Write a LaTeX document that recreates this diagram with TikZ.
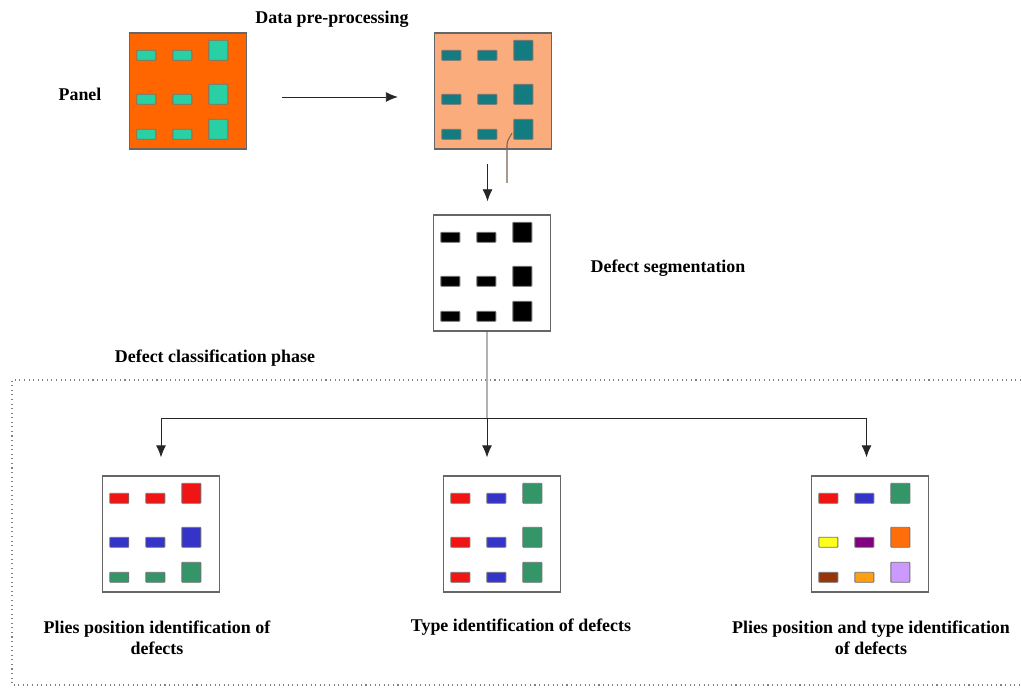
\documentclass[tikz,border=0pt]{standalone}
\usepackage{fontspec}
\setmainfont{Liberation Serif}
\usepackage{xcolor}
\usepackage{tikz}
\usetikzlibrary{arrows.meta, positioning}
\definecolor{panelorange}{RGB}{255, 102, 0}
\definecolor{prepsalmon}{RGB}{250, 172, 124}
\definecolor{aquagreen}{RGB}{40, 208, 164}
\definecolor{darkteal}{RGB}{18, 124, 128}
\definecolor{flawred}{RGB}{240, 20, 20}
\definecolor{flawblue}{RGB}{52, 52, 200}
\definecolor{flawgreen}{RGB}{52, 150, 104}
\definecolor{flawyellow}{RGB}{255, 255, 30}
\definecolor{flawpurple}{RGB}{128, 0, 128}
\definecolor{flaworange}{RGB}{255, 110, 10}
\definecolor{flawbrown}{RGB}{150, 52, 10}
\definecolor{flawamber}{RGB}{255, 160, 20}
\definecolor{flawlilac}{RGB}{204, 153, 255}
\definecolor{strayline}{RGB}{120, 100, 80}

% nine defects inside a panel, row by row
\newcommand{\defects}[2]{%
  \begin{scope}[shift={(#1.north west)}]
    \foreach \clr [count=\i from 0] in {#2} {
      \pgfmathtruncatemacro{\col}{mod(\i,3)}
      \pgfmathtruncatemacro{\row}{div(\i,3)}
      \pgfmathsetmacro{\xl}{8+36*\col}
      \pgfmathsetmacro{\yb}{{28,72,107}[\row]}
      \pgfmathsetmacro{\h}{\col==2 ? 20 : 10}
      \draw[flaw, fill=\clr] (\xl,\yb) rectangle ++(19,-\h);
    }
  \end{scope}}

\begin{document}
\begin{tikzpicture}[
    x=0.02cm, y=-0.02cm,
    box/.style={rectangle, draw=black!60, line width=0.8pt, minimum width=2.34cm, minimum height=2.32cm, inner sep=0pt},
    flaw/.style={draw=black!55, line width=0.5pt, rounded corners=0.4pt},
    label/.style={font=\bfseries\fontsize{10.2}{12}\selectfont, align=center},
    arrow/.style={-{Latex[length=2.4mm, width=2mm]}, line width=0.5pt, black!85},
    wire/.style={line width=0.5pt, black!85}
]
    \useasboundingbox (0,0) rectangle (1021,688);

    % Panel and data pre-processing
    \node[box, fill=panelorange] (panel) at (188,91) {};
    \node[box, fill=prepsalmon] (prep) at (493,91) {};
    \defects{panel}{aquagreen,aquagreen,aquagreen,aquagreen,aquagreen,aquagreen,aquagreen,aquagreen,aquagreen}
    \defects{prep}{darkteal,darkteal,darkteal,darkteal,darkteal,darkteal,darkteal,darkteal,darkteal}
    \node[label] (panellbl) at (80,94) {Panel};
    \node[label] (preplbl) at (332,19) {Data pre-processing};

    % Defect segmentation
    \node[box, fill=white] (seg) at (492,273) {};
    \defects{seg}{black,black,black,black,black,black,black,black,black}
    \node[label] (seglbl) at (668,268) {Defect segmentation};

    % Defect classification phase
    \draw[dotted, black!50, line width=0.6pt] (1030,380) -- (12,380) -- (12,685) -- (1030,685);
    \node[label] (phaselbl) at (215,358) {Defect classification phase};
    \node[box, fill=white] (plies) at (161,534) {};
    \node[box, fill=white] (type) at (502,534) {};
    \node[box, fill=white] (both) at (870,534) {};
    \defects{plies}{flawred,flawred,flawred,flawblue,flawblue,flawblue,flawgreen,flawgreen,flawgreen}
    \defects{type}{flawred,flawblue,flawgreen,flawred,flawblue,flawgreen,flawred,flawblue,flawgreen}
    \defects{both}{flawred,flawblue,flawgreen,flawyellow,flawpurple,flaworange,flawbrown,flawamber,flawlilac}
    \node[label] (plieslbl) at (157,638) {Plies position identification of\\defects};
    \node[label] (typelbl) at (521,627) {Type identification of defects};
    \node[label] (bothlbl) at (871,638) {Plies position and type identification\\of defects};

    % Arrows
    \draw[arrow, shorten <=0.7cm, shorten >=0.72cm] ([yshift=-0.12cm]panel.east) -- ([yshift=-0.12cm]prep.west);
    \draw[arrow, shorten <=0.28cm, shorten >=0.26cm] ([xshift=-0.11cm]prep.south) -- ([xshift=-0.09cm]seg.north);
    \coordinate (kink) at (507,145);
    \draw[strayline, line width=0.6pt] (512,133) to[out=-115, in=90] (kink) -- (507,183);

    \coordinate (split) at (487,418);
    \draw[wire] ([xshift=-0.1cm]seg.south) -- (split);
    \draw[arrow, shorten >=0.36cm] (split) -| (plies.north);
    \draw[arrow, shorten >=0.36cm] (split) -- (split |- type.north);
    \draw[arrow, shorten >=0.36cm] (split) -| ([xshift=-0.07cm]both.north);
\end{tikzpicture}
\end{document}
